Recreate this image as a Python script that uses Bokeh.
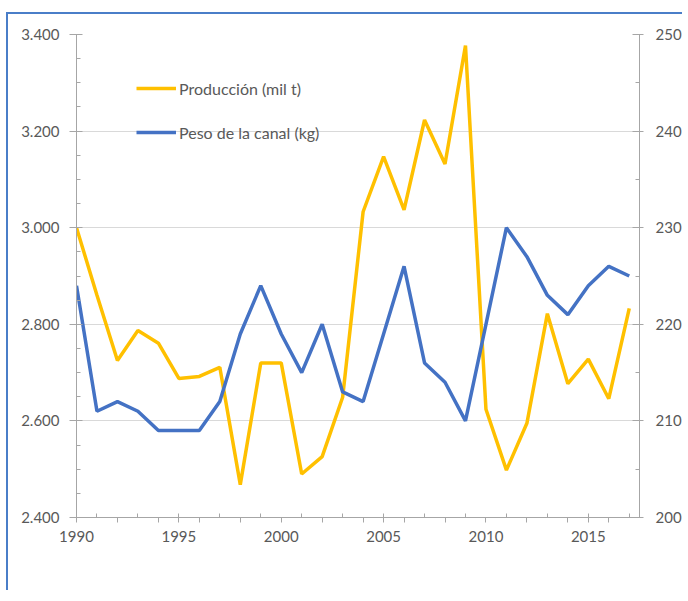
from bokeh.plotting import figure
from bokeh.models import Range1d, LinearAxis, FixedTicker, Legend, LegendItem
from bokeh.embed import file_html
from bokeh.resources import INLINE

years = list(range(1990, 2018))
produccion = [3000, 2860, 2725, 2787, 2761, 2688, 2692, 2711, 2468, 2720,
              2720, 2490, 2526, 2649, 3033, 3147, 3037, 3223, 3132, 3377,
              2624, 2498, 2595, 2822, 2677, 2728, 2646, 2833]
peso = [224, 211, 212, 211, 209, 209, 209, 212, 219, 224,
        219, 215, 220, 213, 212, 219, 226, 216, 214, 210,
        220, 230, 227, 223, 221, 224, 226, 225]

left_ticks = [2400, 2600, 2800, 3000, 3200, 3400]
left_labels = ["2.400", "2.600", "2.800", "3.000", "3.200", "3.400"]
right_ticks = [200, 210, 220, 230, 240, 250]
x_label_years = [1990, 1995, 2000, 2005, 2010, 2015]

label_series = ["Producción (mil t)", "Peso de la canal (kg)"]

FONT = "Lato"
TXT = "#595959"
AX = "#A6A6A6"
BLUE_FRAME = "#4A7EC8"

p = figure(width=676, height=578, output_backend="svg", toolbar_location=None,
           x_range=Range1d(1990, 2017.5), y_range=Range1d(2400, 3400),
           min_border_left=68, min_border_right=42, min_border_top=20,
           min_border_bottom=75)
p.margin = (12, 0, 0, 6)
p.styles = {"border-top": f"2px solid {BLUE_FRAME}",
            "border-left": f"2px solid {BLUE_FRAME}"}
p.outline_line_color = None
p.background_fill_color = "white"
p.border_fill_color = "white"
p.extra_y_ranges = {"right": Range1d(200, 250)}

# x axis
even_years = [y for y in years if y % 2 == 0]
odd_years = [y for y in years if y % 2 == 1]
xt = sorted(set(even_years + x_label_years))
p.xaxis.ticker = FixedTicker(ticks=xt, minor_ticks=odd_years)
p.xaxis.major_label_overrides = {y: (str(y) if y in x_label_years else "") for y in xt}
p.xaxis.major_tick_out = 5
p.xaxis.major_tick_in = 0
p.xaxis.minor_tick_in = 4
p.xaxis.minor_tick_out = 0
p.xaxis.major_label_standoff = 8

# left axis
p.yaxis.ticker = FixedTicker(ticks=left_ticks,
                             minor_ticks=list(range(2450, 3400, 50)))
p.yaxis.major_label_overrides = dict(zip(left_ticks, left_labels))
p.yaxis.major_tick_out = 7
p.yaxis.major_tick_in = 6
p.yaxis.minor_tick_in = 4
p.yaxis.minor_tick_out = 0
p.yaxis.major_label_standoff = 10

# right axis
ra = LinearAxis(y_range_name="right",
                ticker=FixedTicker(ticks=right_ticks,
                                   minor_ticks=list(range(205, 250, 10))))
ra.major_tick_out = 4
ra.major_tick_in = 7
ra.minor_tick_in = 4
ra.minor_tick_out = 0
ra.major_label_standoff = 12
p.add_layout(ra, "right")

for ax in [p.xaxis[0], p.yaxis[0], ra]:
    ax.axis_line_color = AX
    ax.major_tick_line_color = AX
    ax.minor_tick_line_color = AX
    ax.major_label_text_font = FONT
    ax.major_label_text_font_size = "15px"
    ax.major_label_text_color = TXT

p.xgrid.grid_line_color = None
p.ygrid.grid_line_color = "#D9D9D9"
p.ygrid.ticker = FixedTicker(ticks=left_ticks)

r1 = p.line(years, produccion, line_color="#FFC000", line_width=3.5)
r2 = p.line(years, peso, line_color="#4472C4", line_width=3.5, y_range_name="right")

legend = Legend(items=[LegendItem(label=label_series[0], renderers=[r1]),
                       LegendItem(label=label_series[1], renderers=[r2])],
                location=(60, 375), padding=0, margin=0, spacing=24,
                glyph_width=40, glyph_height=20, label_height=20,
                label_standoff=3, border_line_color=None,
                background_fill_alpha=0,
                label_text_font=FONT, label_text_font_size="16px",
                label_text_color=TXT)
p.add_layout(legend)

open("out.html", "w").write(file_html(p, INLINE))
